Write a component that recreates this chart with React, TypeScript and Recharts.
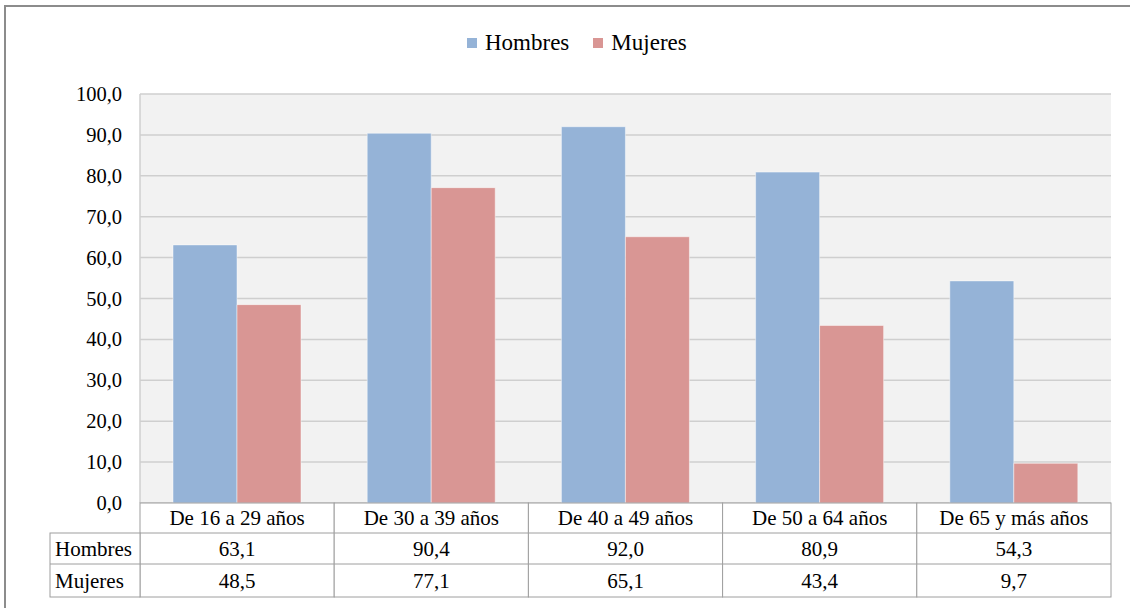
import React from 'react';
import { BarChart, Bar, XAxis, YAxis, CartesianGrid, Legend } from 'recharts';

const categories = ['De 16 a 29 años', 'De 30 a 39 años', 'De 40 a 49 años', 'De 50 a 64 años', 'De 65 y más años'];
const hombres = [63.1, 90.4, 92.0, 80.9, 54.3];
const mujeres = [48.5, 77.1, 65.1, 43.4, 9.7];
const seriesNames = ['Hombres', 'Mujeres'];
const seriesColors = ['#95B3D7', '#D99694'];
const yTicks = [0, 10, 20, 30, 40, 50, 60, 70, 80, 90, 100];

const data = categories.map((c, i) => ({ category: c, Hombres: hombres[i], Mujeres: mujeres[i] }));
const seriesValues = [hombres, mujeres];

const W = 1130;
const H = 608;
const MARGIN = { top: 94, right: 19, left: 0, bottom: 11 };
const Y_W = 140;
const X_H = 94;
const PLOT_W = W - MARGIN.left - MARGIN.right - Y_W;
const COL_W = PLOT_W / categories.length;
const ROW_H = [30, 31, 33];
const HEADER_W = 90;
const FONT = 'Liberation Serif';
const BORDER = '#9E9E9E';
const fmt = (v: number) => v.toFixed(1).replace('.', ',');

const TableTick = (props: any) => {
  const { x, y, payload, index } = props;
  const left = x - COL_W / 2;
  const right = x + COL_W / 2;
  const r1 = y;
  const r2 = r1 + ROW_H[0];
  const r3 = r2 + ROW_H[1];
  const r4 = r3 + ROW_H[2];
  const rows = [r2, r3];
  const txt = { fontFamily: FONT, fontSize: 21, fill: '#000' };
  return (
    <g>
      <rect x={left} y={r1} width={COL_W} height={r4 - r1} fill="#fff" stroke={BORDER} strokeWidth={1} />
      {rows.map((ry, k) => (
        <line key={k} x1={left} x2={right} y1={ry} y2={ry} stroke={BORDER} strokeWidth={1} />
      ))}
      <text x={x} y={(r1 + r2) / 2} textAnchor="middle" dominantBaseline="central" style={txt}>
        {payload.value}
      </text>
      {seriesValues.map((vals, k) => (
        <text
          key={k}
          x={x}
          y={(rows[k] + (k === 0 ? r3 : r4)) / 2}
          textAnchor="middle"
          dominantBaseline="central"
          style={txt}
        >
          {fmt(vals[index])}
        </text>
      ))}
      {index === 0 && (
        <g>
          <rect x={left - HEADER_W} y={r2} width={HEADER_W} height={r4 - r2} fill="#fff" stroke={BORDER} strokeWidth={1} />
          <line x1={left - HEADER_W} x2={left} y1={r3} y2={r3} stroke={BORDER} strokeWidth={1} />
          {seriesNames.map((n, k) => (
            <text
              key={n}
              x={left - HEADER_W + 5}
              y={(rows[k] + (k === 0 ? r3 : r4)) / 2}
              textAnchor="start"
              dominantBaseline="central"
              style={txt}
            >
              {n}
            </text>
          ))}
        </g>
      )}
    </g>
  );
};

const YTick = (props: any) => {
  const { x, y, payload } = props;
  return (
    <text x={x} y={y} textAnchor="end" dominantBaseline="central" style={{ fontFamily: FONT, fontSize: 20.5, fill: '#000' }}>
      {fmt(payload.value)}
    </text>
  );
};

const LegendContent = (props: any) => {
  const payload = props.payload || [];
  return (
    <div style={{ display: 'flex', alignItems: 'center', fontFamily: FONT, fontSize: 23, lineHeight: '28px', color: '#000' }}>
      {payload.map((p: any, i: number) => (
        <div key={i} style={{ display: 'flex', alignItems: 'center', marginRight: 24 }}>
          <span style={{ display: 'inline-block', width: 10, height: 10, background: p.color, marginRight: 8 }} />
          <span style={{ fontFamily: FONT }}>{p.value}</span>
        </div>
      ))}
    </div>
  );
};

export default function App() {
  return (
    <div style={{ position: 'absolute', left: 0, top: 0, width: W, height: H, overflow: 'hidden', background: '#fff', fontFamily: FONT }}>
      <div
        style={{
          position: 'absolute',
          left: 4,
          top: 5,
          width: W + 20,
          height: H + 20,
          border: '2px solid #8C8C8C',
          boxSizing: 'border-box',
        }}
      />
      <div style={{ position: 'absolute', left: 0, top: 0 }}>
        <BarChart width={W} height={H} data={data} margin={MARGIN} barGap={0} barCategoryGap="17%" style={{ fontFamily: FONT }}>
          <CartesianGrid vertical={false} stroke="#CFCFCF" strokeWidth={1.5} fill="#F2F2F2" />
          <XAxis
            dataKey="category"
            height={X_H}
            axisLine={false}
            tickLine={false}
            tickSize={0}
            tickMargin={0}
            interval={0}
            tick={<TableTick />}
          />
          <YAxis
            width={Y_W}
            domain={[0, 100]}
            ticks={yTicks}
            axisLine={{ stroke: '#CFCFCF', strokeWidth: 1.5 }}
            tickLine={false}
            tickSize={0}
            tickMargin={18}
            tick={<YTick />}
          />
          <Legend
            verticalAlign="middle"
            align="center"
            layout="horizontal"
            content={<LegendContent />}
            wrapperStyle={{ top: 29, left: 467, width: 300 }}
          />
          {seriesNames.map((n, i) => (
            <Bar
              key={n}
              dataKey={n}
              name={n}
              fill={seriesColors[i]}
              stroke="#ffffff"
              strokeOpacity={0.45}
              strokeWidth={1}
              isAnimationActive={false}
            />
          ))}
        </BarChart>
      </div>
    </div>
  );
}
